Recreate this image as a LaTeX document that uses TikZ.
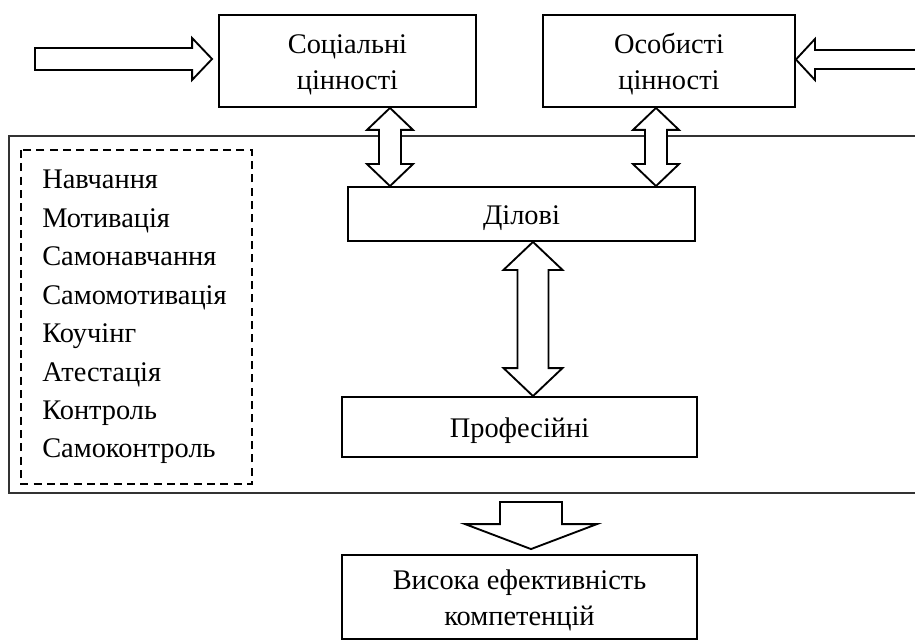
\documentclass[tikz,border=0pt]{standalone}
\usepackage{fontspec}
\setmainfont{Liberation Serif}
\usetikzlibrary{calc}
% vertical two-headed block arrow from (#1) down to (#2)
\newcommand{\dblarrow}[2]{%
  \draw[blockarrow] (#1) -- ($(#1)+(\ahead,\alen)$) -- ($(#1)+(\ashaft,\alen)$)
    -- ($(#2)+(\ashaft,-\alen)$) -- ($(#2)+(\ahead,-\alen)$) -- (#2)
    -- ($(#2)+(-\ahead,-\alen)$) -- ($(#2)+(-\ashaft,-\alen)$)
    -- ($(#1)+(-\ashaft,\alen)$) -- ($(#1)+(-\ahead,\alen)$) -- cycle;}
\begin{document}
\begin{tikzpicture}[x=0.75pt, y=-0.75pt, line join=miter,
  box/.style={draw, line width=1.4pt, inner sep=0pt, align=center, font=\fontsize{21.3}{26.5}\selectfont},
  onebox/.style={box, text height=20.4pt, text depth=4.7pt},
  twobox/.style={box, text height=47pt, text depth=4.7pt},
  item/.style={anchor=base west, inner sep=0pt, font=\fontsize{21.3}{26}\selectfont},
  blockarrow/.style={draw, line width=1.4pt, fill=white}]
\useasboundingbox (0,0) rectangle (915,642);
\clip (0,0) rectangle (915,642);
% outer frame and dashed list
\draw[line width=0.9pt, black!80] (9,136) rectangle (925,493);
\draw[line width=1.3pt, dash pattern=on 6pt off 4pt] (21,150) rectangle (252,484);
\foreach \t [count=\i] in {Навчання, Мотивація, Самонавчання, Самомотивація, Коучінг, Атестація, Контроль, Самоконтроль}
  \node[item] (l\i) at (42,{189+38.4*(\i-1)}) {\t};
% boxes
\node[twobox, minimum width=192.75pt, minimum height=69pt] (soc) at (347.5,61) {Соціальні\\цінності};
\node[twobox, minimum width=189pt, minimum height=69pt] (per) at (669,61) {Особисті\\цінності};
\node[onebox, minimum width=260.25pt, minimum height=40.5pt] (dil) at (521.5,214) {Ділові};
\node[onebox, minimum width=266.25pt, minimum height=45pt] (prof) at (519.5,427) {Професійні};
\node[twobox, minimum width=266.25pt, minimum height=63pt] (vys) at (519.5,597) {Висока ефективність\\компетенцій};
% arrows
\coordinate (lt) at ($(soc.west)+(-6,-2)$);
\coordinate (ltail) at (35,59);
\draw[blockarrow] (lt) -- ($(lt)+(-20,-21)$) -- ($(lt)+(-20,-11)$) -- ($(ltail)+(0,-11)$)
  -- ($(ltail)+(0,11)$) -- ($(lt)+(-20,11)$) -- ($(lt)+(-20,21)$) -- cycle;
\coordinate (rt) at ($(per.east)+(0,-1.5)$);
\coordinate (rtail) at (925,59.5);
\draw[blockarrow] (rt) -- ($(rt)+(19,-20.5)$) -- ($(rt)+(19,-9.5)$) -- ($(rtail)+(0,-9.5)$)
  -- ($(rtail)+(0,9.5)$) -- ($(rt)+(19,9.5)$) -- ($(rt)+(19,20.5)$) -- cycle;
\def\ashaft{11}
\def\ahead{23}
\def\alen{22}
\coordinate (s1) at ($(soc.south)+(42.5,0)$);
\coordinate (d1) at (s1 |- dil.north);
\dblarrow{s1}{d1}
\coordinate (s2) at ($(per.south)+(-13,0)$);
\coordinate (d2) at (s2 |- dil.north);
\dblarrow{s2}{d2}
\def\ashaft{15.5}
\def\ahead{29.5}
\def\alen{28}
\coordinate (s3) at ($(dil.south)+(11.5,0)$);
\coordinate (d3) at (s3 |- prof.north);
\dblarrow{s3}{d3}
\coordinate (bt) at ($(vys.north)+(11.5,-5)$);
\coordinate (btail) at ($(prof.south)+(11.5,44)$);
\draw[blockarrow] (bt) -- ($(bt)+(66,-25)$) -- ($(bt)+(31,-25)$) -- ($(btail)+(31,0)$)
  -- ($(btail)+(-31,0)$) -- ($(bt)+(-31,-25)$) -- ($(bt)+(-66,-25)$) -- cycle;
\end{tikzpicture}
\end{document}
